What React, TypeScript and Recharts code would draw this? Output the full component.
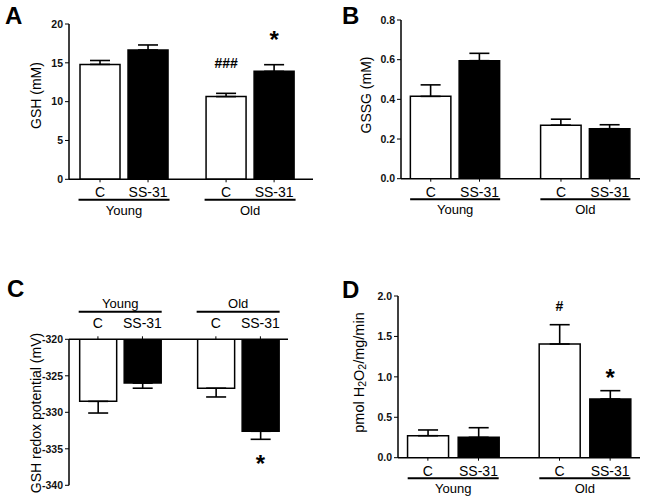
import React from "react";
import { BarChart, Bar, Cell, XAxis, YAxis, ErrorBar, ReferenceDot } from "recharts";

const groups = ["Young", "Old"];
const treatments = ["C", "SS-31"];

// A: GSH (mM)
const gshMean = [14.8, 16.65, 10.65, 13.9];
const gshSem = [0.5, 0.65, 0.42, 0.86];
const gshMarks = ["", "", "###", "*"];
const gshTicks = [0, 5, 10, 15, 20];

// B: GSSG (mM)
const gssgMean = [0.415, 0.595, 0.27, 0.252];
const gssgSem = [0.058, 0.037, 0.03, 0.02];
const gssgMarks = ["", "", "", ""];
const gssgTicks = [0, 0.2, 0.4, 0.6, 0.8];

// C: GSH redox potential (mV)
const redoxMean = [-328.5, -326.0, -326.7, -332.6];
const redoxSem = [1.6, 0.7, 1.2, 1.1];
const redoxMarks = ["", "", "", "*"];
const redoxTicks = [-340, -335, -330, -325, -320];

// D: pmol H2O2/mg/min
const h2o2Mean = [0.272, 0.252, 1.406, 0.726];
const h2o2Sem = [0.071, 0.119, 0.239, 0.103];
const h2o2Marks = ["", "", "#", "*"];
const h2o2Ticks = [0, 0.5, 1, 1.5, 2];

const FONT = "'Liberation Sans', Arial, Helvetica, sans-serif";
const CAT_H = 18;

function CatTick(props: any) {
  const { x, y, index, flip } = props;
  return (
    <text x={x} y={flip ? y - 8.3 : y + 15} textAnchor="middle" fontSize={14} fill="#000" fontFamily={FONT}>
      {treatments[index % treatments.length]}
    </text>
  );
}

function GroupTick(props: any) {
  const { x, y, index, flip, half } = props;
  const lineY = flip ? y - 9.6 : y + 2.5;
  const textY = flip ? y - 13.6 : y + 17.7;
  return (
    <g>
      <line x1={x - half} x2={x + half} y1={lineY} y2={lineY} stroke="#000" strokeWidth={2} />
      <text x={x} y={textY} textAnchor="middle" fontSize={13} fill="#000" fontFamily={FONT}>
        {groups[index]}
      </text>
    </g>
  );
}

function MarkText(props: any) {
  const { viewBox, mark } = props;
  if (!viewBox) return null;
  const cx = viewBox.x + viewBox.width / 2;
  const cy = viewBox.y + viewBox.height / 2;
  const star = mark === "*";
  return (
    <text x={cx} y={cy} dy={star ? "0.58em" : "0.36em"} textAnchor="middle" fontFamily={FONT}
      fontWeight="bold" fontSize={star ? 24 : 14} fill="#000">
      {mark}
    </text>
  );
}

type PanelProps = {
  left: number; top: number; width: number; height: number;
  plot: [number, number, number, number];
  grpH: number;
  flip?: boolean;
  step: number; padL: number; padR: number;
  barSize: number; half: number;
  domain: [number, number];
  ticks: number[];
  digits: number;
  mean: number[]; sem: number[]; marks: string[]; markGap: number;
};

function Panel(p: PanelProps) {
  const [x0, y0, x1, y1] = p.plot;
  const axesH = CAT_H + p.grpH;
  const margin = {
    left: 0,
    right: p.left + p.width - x1,
    top: p.flip ? y0 - p.top - axesH : y0 - p.top,
    bottom: p.flip ? p.top + p.height - y1 : p.top + p.height - y1 - axesH,
  };
  const rows = p.mean.map((m, i) => ({
    pos: (i % 2) + Math.floor(i / 2) * p.step,
    mean: m,
    sem: p.sem[i],
    err: p.flip ? [p.sem[i], 0] : [0, p.sem[i]],
    mark: p.marks[i],
  }));
  const last = rows[rows.length - 1].pos;
  const xDomain = [-p.padL, last + p.padR];
  const groupCenters = groups.map((_, g) => (rows[g * 2].pos + rows[g * 2 + 1].pos) / 2);
  const orient = p.flip ? "top" : "bottom";

  return (
    <div style={{ position: "absolute", left: p.left, top: p.top }}>
      <BarChart width={p.width} height={p.height} data={rows} margin={margin} style={{ fontFamily: FONT }}>
        <XAxis
          xAxisId={0}
          dataKey="pos"
          type="number"
          domain={xDomain}
          allowDataOverflow
          ticks={rows.map((r) => r.pos)}
          interval={0}
          orientation={orient}
          height={CAT_H}
          tickSize={3}
          tickMargin={0}
          axisLine={{ stroke: "#000", strokeWidth: 1.5 }}
          tickLine={{ stroke: "#000", strokeWidth: 1 }}
          tick={<CatTick flip={p.flip} />}
        />
        <XAxis
          xAxisId="grp"
          dataKey="pos"
          type="number"
          domain={xDomain}
          allowDataOverflow
          ticks={groupCenters}
          interval={0}
          orientation={orient}
          height={p.grpH}
          tickSize={0}
          tickMargin={0}
          axisLine={false}
          tickLine={false}
          tick={<GroupTick flip={p.flip} half={p.half} />}
        />
        <YAxis
          type="number"
          domain={p.domain}
          allowDataOverflow
          ticks={p.ticks}
          interval={0}
          width={x0 - p.left}
          tickSize={4}
          tickMargin={2}
          tickFormatter={(v: number) => v.toFixed(p.digits)}
          axisLine={{ stroke: "#000", strokeWidth: 1.5 }}
          tickLine={{ stroke: "#000", strokeWidth: 1 }}
          tick={{ fontSize: 10.5, fontWeight: "bold", fill: "#111", fontFamily: FONT }}
        />
        <Bar dataKey="mean" xAxisId={0} barSize={p.barSize} stroke="#000" strokeWidth={1.5} isAnimationActive={false}>
          {rows.map((r, i) => (
            <Cell key={i} fill={i % 2 === 0 ? "#fff" : "#000"} />
          ))}
          <ErrorBar dataKey="err" direction="y" width={10} stroke="#000" strokeWidth={1.6} isAnimationActive={false} />
        </Bar>
        {rows
          .filter((r) => r.mark)
          .map((r, i) => (
            <ReferenceDot
              key={i}
              xAxisId={0}
              x={r.pos}
              y={p.flip ? r.mean - r.sem - p.markGap : r.mean + r.sem + p.markGap}
              r={1}
              fill="none"
              stroke="none"
              ifOverflow="visible"
              label={<MarkText mark={r.mark} />}
            />
          ))}
      </BarChart>
    </div>
  );
}

export default function App() {
  const title = { fontFamily: FONT, fontSize: 14, fill: "#000" };
  const letter = { fontFamily: FONT, fontSize: 24, fontWeight: "bold" as const, fill: "#000" };
  return (
    <div style={{ position: "absolute", left: 0, top: 0, width: 645, height: 502, background: "#fff", overflow: "hidden" }}>
      <Panel
        left={0} top={0} width={320} height={240}
        plot={[69, 24, 313, 179.3]} grpH={30}
        step={2.625} padL={0.646} padR={0.81} barSize={40} half={45.5}
        domain={[0, 20]} ticks={gshTicks} digits={0}
        mean={gshMean} sem={gshSem} marks={gshMarks} markGap={3.9}
      />
      <Panel
        left={320} top={0} width={325} height={240}
        plot={[401, 20, 640, 178.7]} grpH={30}
        step={2.67} padL={0.61} padR={0.62} barSize={40.5} half={45}
        domain={[0, 0.8]} ticks={gssgTicks} digits={1}
        mean={gssgMean} sem={gssgSem} marks={gssgMarks} markGap={0.1}
      />
      <Panel
        left={0} top={250} width={320} height={252}
        plot={[69, 339.3, 288, 485.3]} grpH={30} flip
        step={2.65} padL={0.65} padR={0.62} barSize={37} half={41.5}
        domain={[-340, -320]} ticks={redoxTicks} digits={0}
        mean={redoxMean} sem={redoxSem} marks={redoxMarks} markGap={2.56}
      />
      <Panel
        left={320} top={250} width={325} height={252}
        plot={[398, 296, 640, 457.7]} grpH={26}
        step={2.6} padL={0.59} padR={0.59} barSize={41} half={45.5}
        domain={[0, 2]} ticks={h2o2Ticks} digits={1}
        mean={h2o2Mean} sem={h2o2Sem} marks={h2o2Marks} markGap={0.233}
      />
      <svg width={645} height={502} style={{ position: "absolute", left: 0, top: 0, pointerEvents: "none" }}>
        <text x={5} y={24} {...letter}>A</text>
        <text x={342} y={24} {...letter}>B</text>
        <text x={7} y={297} {...letter}>C</text>
        <text x={342} y={298} {...letter}>D</text>
        <text transform="translate(36,95.5) rotate(-90)" textAnchor="middle" dominantBaseline="central" {...title}>GSH (mM)</text>
        <text transform="translate(366,95) rotate(-90)" textAnchor="middle" dominantBaseline="central" {...title}>GSSG (mM)</text>
        <text transform="translate(36,413) rotate(-90)" textAnchor="middle" dominantBaseline="central" {...title}>GSH redox potential (mV)</text>
        <text transform="translate(359,372.5) rotate(-90)" textAnchor="middle" dominantBaseline="central" {...title} fontSize={14.5}>
          <tspan>pmol H</tspan>
          <tspan fontSize={10.5} dy={3}>2</tspan>
          <tspan dy={-3}>O</tspan>
          <tspan fontSize={10.5} dy={3}>2</tspan>
          <tspan dy={-3}>/mg/min</tspan>
        </text>
      </svg>
    </div>
  );
}
